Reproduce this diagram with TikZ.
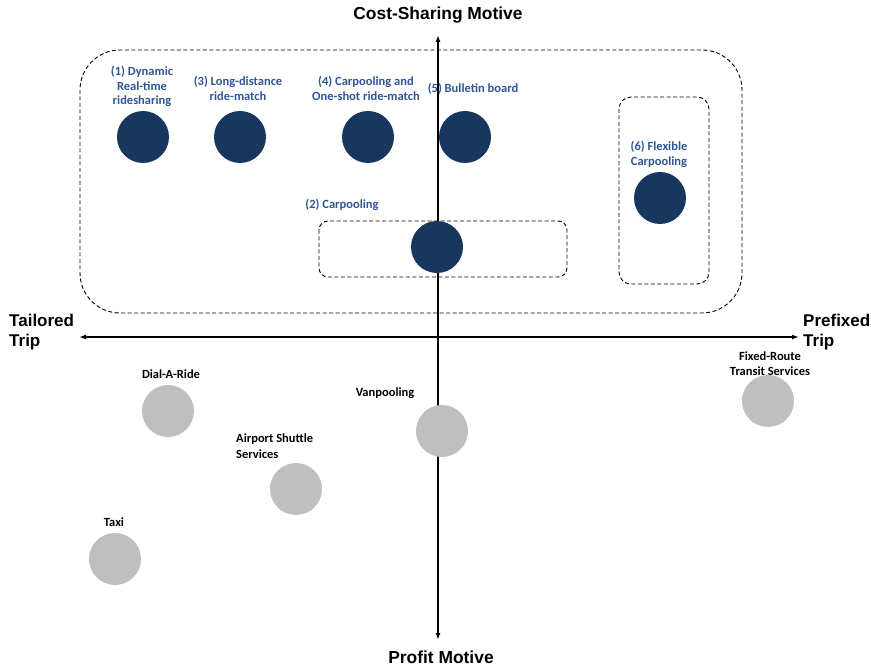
\documentclass[tikz,border=0pt]{standalone}
\usepackage{fontspec}
\setmainfont{Carlito}
\newfontfamily\axisfont{Liberation Sans}
\usetikzlibrary{arrows.meta}
\definecolor{navy}{HTML}{17375E}
\definecolor{labblue}{HTML}{2F5597}
\definecolor{greyc}{HTML}{BFBFBF}
\tikzset{
  axis/.style={line width=1.5pt,{Latex[length=7pt,width=5pt]}-{Latex[length=7pt,width=5pt]}},
  grp/.style={draw,dashed,dash pattern=on 4pt off 2.5pt,line width=0.9pt},
  navydot/.style={circle,fill=navy,minimum size=52pt,inner sep=0pt},
  greydot/.style={circle,fill=greyc,minimum size=52pt,inner sep=0pt},
  bluelab/.style={text=labblue,font=\fontsize{12.5}{14.8}\selectfont\bfseries,align=center,inner sep=0pt},
  blacklab/.style={text=black,font=\fontsize{12.5}{15.5}\selectfont\bfseries,align=center,inner sep=0pt},
  axlab/.style={font=\axisfont\fontsize{17.4}{20}\selectfont\bfseries,inner sep=0pt},
  sidelab/.style={font=\axisfont\fontsize{17}{20.5}\selectfont\bfseries,align=left,inner sep=0pt},
}
\begin{document}
\begin{tikzpicture}[x=1pt,y=-1pt]
\useasboundingbox (0,0) rectangle (871,671);
% groups
\draw[grp,rounded corners=40pt] (80,50) rectangle (742,313);
\draw[grp,rounded corners=9pt] (319,221) rectangle (567,277);
\draw[grp,rounded corners=12pt] (619,97) rectangle (709,284);
% axes
\coordinate (top) at (438,35);
\coordinate (bot) at (438,640);
\coordinate (lft) at (79,337);
\coordinate (rgt) at (799,337);
\draw[axis] (bot) -- (top);
\draw[axis] (lft) -- (rgt);
\node[axlab] (cs) at (438,15) {Cost-Sharing Motive};
\node[axlab] (pm) at (441,657) {Profit Motive};
\node[sidelab,anchor=west] (tt) at (9,332) {Tailored\\Trip};
\node[sidelab,anchor=west] (pt) at (803,332) {Prefixed\\Trip};
% navy dots
\node[navydot] (d1) at (143,137) {};
\node[navydot] (d3) at (240,137) {};
\node[navydot] (d4) at (368,137) {};
\node[navydot] (d5) at (465,137) {};
\node[navydot] (d2) at (437,247) {};
\node[navydot] (d6) at (660,198) {};
\node[bluelab] (l1) at (142,86.5) {(1) Dynamic\\Real-time\\ridesharing};
\node[bluelab] (l3) at (238,88.5) {(3) Long-distance\\ride-match};
\node[bluelab] (l4) at (366,88.5) {(4) Carpooling and\\One-shot ride-match};
\node[bluelab] (l5) at (473,89) {(5) Bulletin board};
\node[bluelab] (l2) at (342,205) {(2) Carpooling};
\node[bluelab] (l6) at (659,154.5) {(6) Flexible\\Carpooling};
% grey dots
\node[greydot] (g1) at (168,411) {};
\node[greydot] (g2) at (442,431) {};
\node[greydot] (g3) at (296,489) {};
\node[greydot] (g4) at (115,559) {};
\node[greydot] (g5) at (768,401) {};
\node[blacklab] (b1) at (171,374) {Dial-A-Ride};
\node[blacklab] (b2) at (385,393) {Vanpooling};
\node[blacklab,align=left,anchor=west] (b3) at (236,446) {Airport Shuttle\\Services};
\node[blacklab] (b4) at (114,522) {Taxi};
\node[blacklab] (b5) at (770,363.5) {Fixed-Route\\Transit Services};
\end{tikzpicture}
\end{document}
